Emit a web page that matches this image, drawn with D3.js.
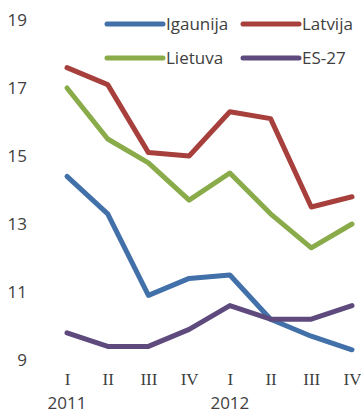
<!DOCTYPE html>
<html>
<head>
<meta charset="utf-8">
<script src="https://cdn.jsdelivr.net/npm/d3@7"></script>
<style>
  html, body { margin: 0; padding: 0; background: #fff; }
  svg { display: block; }
</style>
</head>
<body>
<svg id="chart" width="361" height="414"></svg>
<script>
// Quarterly series, 2011 Q1 – 2012 Q4
const quarters = ["I", "II", "III", "IV", "I", "II", "III", "IV"];
const years = [{ label: "2011", at: 0 }, { label: "2012", at: 4 }];
const yTicks = [9, 11, 13, 15, 17, 19];

const seriesNames = ["Igaunija", "Latvija", "Lietuva", "ES-27"];
const igaunija = [14.4, 13.3, 10.9, 11.4, 11.5, 10.2, 9.7, 9.3];
const latvija  = [17.6, 17.1, 15.1, 15.0, 16.3, 16.1, 13.5, 13.8];
const lietuva  = [17.0, 15.5, 14.8, 13.7, 14.5, 13.3, 12.3, 13.0];
const es27     = [9.8, 9.4, 9.4, 9.9, 10.6, 10.2, 10.2, 10.6];
const colors = ["#4271aa", "#a7403c", "#8aab49", "#5e4a7d"];

const series = [igaunija, latvija, lietuva, es27].map((v, i) => ({
  name: seriesNames[i], values: v, color: colors[i]
}));

const svg = d3.select("#chart");

const x = d3.scalePoint().domain(d3.range(quarters.length)).range([67, 352]);
const y = d3.scaleLinear().domain([9, 19]).range([360, 20]);

// Y axis labels (no axis line)
const yAxis = d3.axisLeft(y).tickValues(yTicks).tickSize(0).tickPadding(0);
const gy = svg.append("g").attr("transform", "translate(27,0)").call(yAxis);
gy.select(".domain").remove();
gy.selectAll("text")
  .attr("font-family", "'Open Sans', sans-serif")
  .attr("font-size", 17)
  .attr("fill", "#404040")
  .attr("dy", "0.35em");

// X axis: roman quarter numerals
const xAxis = d3.axisBottom(x).tickFormat(i => quarters[i]).tickSize(0).tickPadding(0);
const gx = svg.append("g").attr("transform", "translate(0,373)").call(xAxis);
gx.select(".domain").remove();
gx.selectAll("text")
  .attr("font-family", "'Liberation Serif', 'Times New Roman', serif")
  .attr("font-size", 17)
  .attr("fill", "#404040")
  .attr("dy", "0.71em");

// Year labels
svg.append("g").selectAll("text").data(years).join("text")
  .attr("x", d => x(d.at))
  .attr("y", 409)
  .attr("text-anchor", "middle")
  .attr("font-family", "'Open Sans', sans-serif")
  .attr("font-size", 17)
  .attr("fill", "#404040")
  .text(d => d.label);

// Lines
const line = d3.line().x((d, i) => x(i)).y(d => y(d));
svg.append("g").selectAll("path").data(series).join("path")
  .attr("d", d => line(d.values))
  .attr("fill", "none")
  .attr("stroke", d => d.color)
  .attr("stroke-width", 5)
  .attr("stroke-linejoin", "round")
  .attr("stroke-linecap", "round");

// Legend: 2 x 2 grid
const legendPos = [[107, 24], [243, 24], [107, 58], [243, 58]];
const lg = svg.append("g").selectAll("g").data(series).join("g")
  .attr("transform", (d, i) => `translate(${legendPos[i][0]},${legendPos[i][1]})`);
lg.append("line")
  .attr("x1", 0).attr("x2", 56).attr("y1", 0).attr("y2", 0)
  .attr("stroke", d => d.color)
  .attr("stroke-width", 5)
  .attr("stroke-linecap", "round");
lg.append("text")
  .attr("x", 59)
  .attr("y", 0)
  .attr("dy", "0.35em")
  .attr("font-family", "'Open Sans', sans-serif")
  .attr("font-size", 17)
  .attr("fill", "#404040")
  .text(d => d.name);
</script>
</body>
</html>
